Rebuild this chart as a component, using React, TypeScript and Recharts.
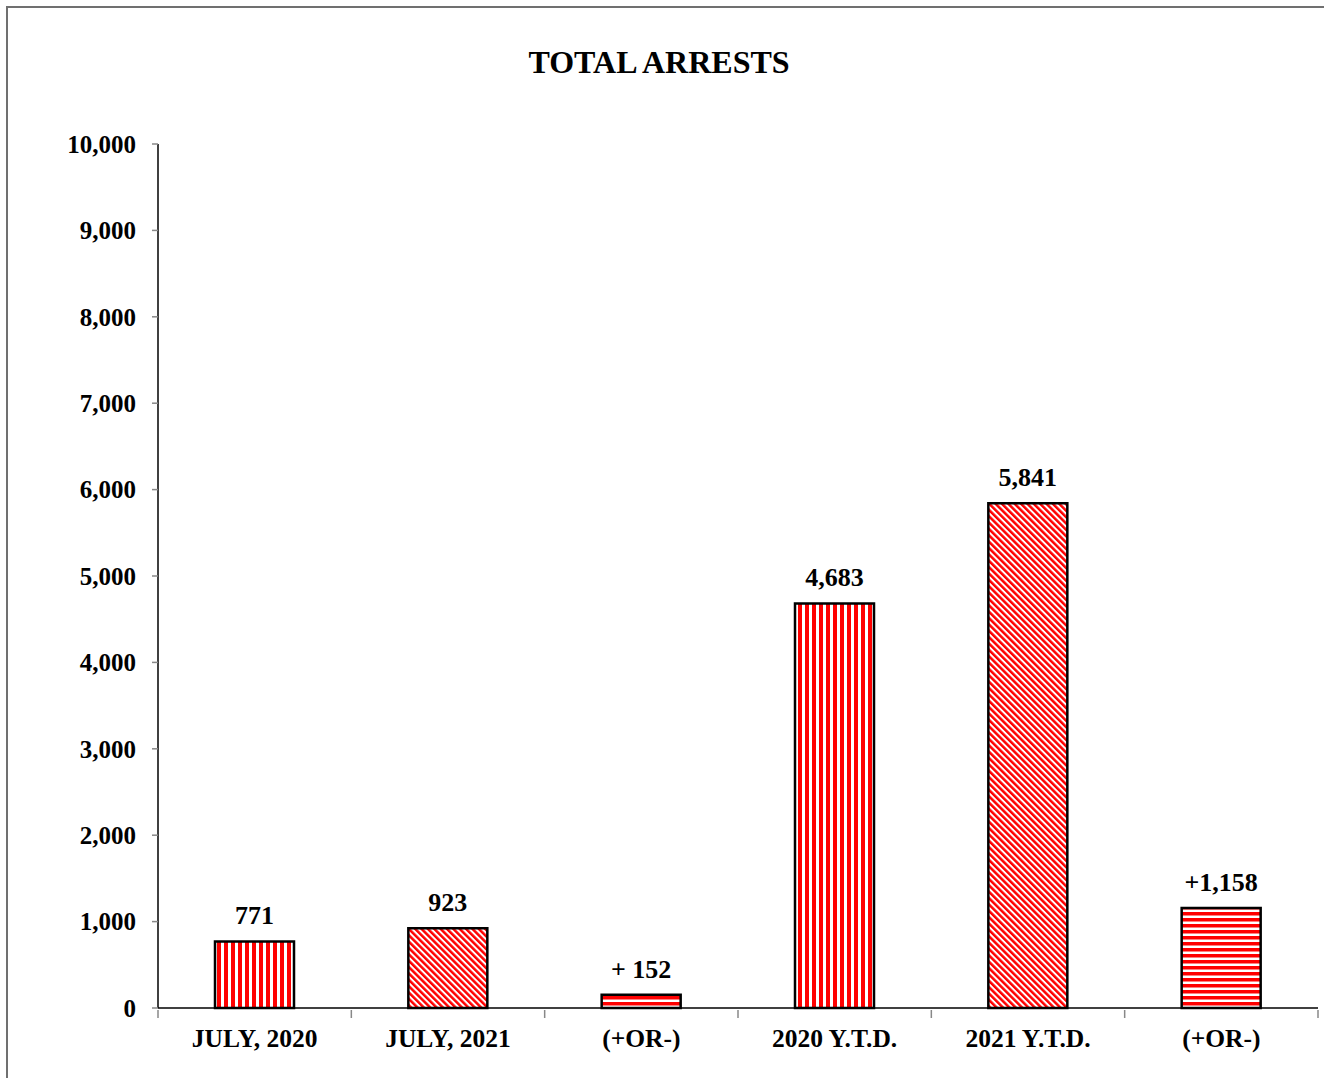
import React from "react";
import { BarChart, Bar, XAxis, YAxis, Cell, LabelList } from "recharts";

const categories = ["JULY, 2020", "JULY, 2021", "(+OR-)", "2020 Y.T.D.", "2021 Y.T.D.", "(+OR-)"];
const arrests = [771, 923, 152, 4683, 5841, 1158];
const valueLabels = ["771", "923", "+ 152", "4,683", "5,841", "+1,158"];
const patterns = ["vert", "diag", "horiz", "vert", "diag", "horiz"];
const yTicks = [0, 1000, 2000, 3000, 4000, 5000, 6000, 7000, 8000, 9000, 10000];

const data = categories.map((name, i) => ({ name, value: arrests[i], label: valueLabels[i] }));

const FONT = "'Liberation Serif', 'Times New Roman', serif";
const RED = "#ff0000";

function CategoryTick(props: any) {
  const { x, y, payload, index } = props;
  const half = payload && payload.offset ? payload.offset : 96.67;
  const axisY = y;
  return (
    <g>
      {index === 0 && <line x1={x - half} x2={x - half} y1={axisY} y2={axisY + 8} stroke="#888" strokeWidth={1.5} />}
      <line x1={x + half} x2={x + half} y1={axisY} y2={axisY + 8} stroke="#888" strokeWidth={1.5} />
      <text x={x} y={axisY + 37} textAnchor="middle" fontFamily={FONT} fontWeight="bold" fontSize={25.5} fill="#000">
        {payload.value}
      </text>
    </g>
  );
}

export default function App() {
  return (
    <div style={{ position: "absolute", left: 0, top: 0, width: 1324, height: 1078, overflow: "hidden", background: "#fff" }}>
      <svg width={0} height={0} style={{ position: "absolute" }}>
        <defs>
          <pattern id="vert" width={7} height={7} patternUnits="userSpaceOnUse">
            <rect width={7} height={7} fill="#fff" />
            <rect width={4} height={7} fill={RED} />
          </pattern>
          <pattern id="horiz" width={6} height={6} patternUnits="userSpaceOnUse">
            <rect width={6} height={6} fill="#fff" />
            <rect width={6} height={3.5} fill={RED} />
          </pattern>
          <pattern id="diag" width={4.5} height={4.5} patternUnits="userSpaceOnUse" patternTransform="rotate(-45)">
            <rect width={4.5} height={4.5} fill="#fff" />
            <rect width={2.5} height={4.5} fill={RED} />
          </pattern>
        </defs>
      </svg>
      <div
        style={{
          position: "absolute", left: 6, top: 6, width: 1340, height: 1100,
          border: "2px solid #707070", boxSizing: "border-box",
        }}
      />
      <div
        style={{
          position: "absolute", left: 0, top: 44, width: 1318, textAlign: "center",
          fontFamily: FONT, fontWeight: "bold", fontSize: 32, color: "#000",
        }}
      >
        TOTAL ARRESTS
      </div>
      <div style={{ position: "absolute", left: 0, top: 0 }}>
        <BarChart width={1324} height={1078} data={data} margin={{ top: 144, right: 6, left: 0, bottom: 0 }} barSize={79}>
          <XAxis
            dataKey="name"
            axisLine={{ stroke: "#000", strokeWidth: 1.5 }}
            tickLine={false}
            tickSize={0}
            tick={<CategoryTick />}
            interval={0}
            height={70}
          />
          <YAxis
            width={158}
            domain={[0, 10000]}
            ticks={yTicks}
            interval={0}
            tickFormatter={(v: number) => v.toLocaleString("en-US")}
            axisLine={{ stroke: "#000", strokeWidth: 1.5 }}
            tickLine={{ stroke: "#888", strokeWidth: 1.5 }}
            tickSize={6}
            tickMargin={16}
            tick={{ fill: "#000", fontFamily: FONT, fontWeight: "bold", fontSize: 25 }}
          />
          <Bar dataKey="value" stroke="#000" strokeWidth={2.5} isAnimationActive={false}>
            {data.map((d, i) => (
              <Cell key={i} fill={`url(#${patterns[i]})`} />
            ))}
            <LabelList
              dataKey="label"
              position="top"
              offset={17}
              fill="#000"
              fontFamily={FONT}
              fontWeight="bold"
              fontSize={26}
            />
          </Bar>
        </BarChart>
      </div>
    </div>
  );
}
